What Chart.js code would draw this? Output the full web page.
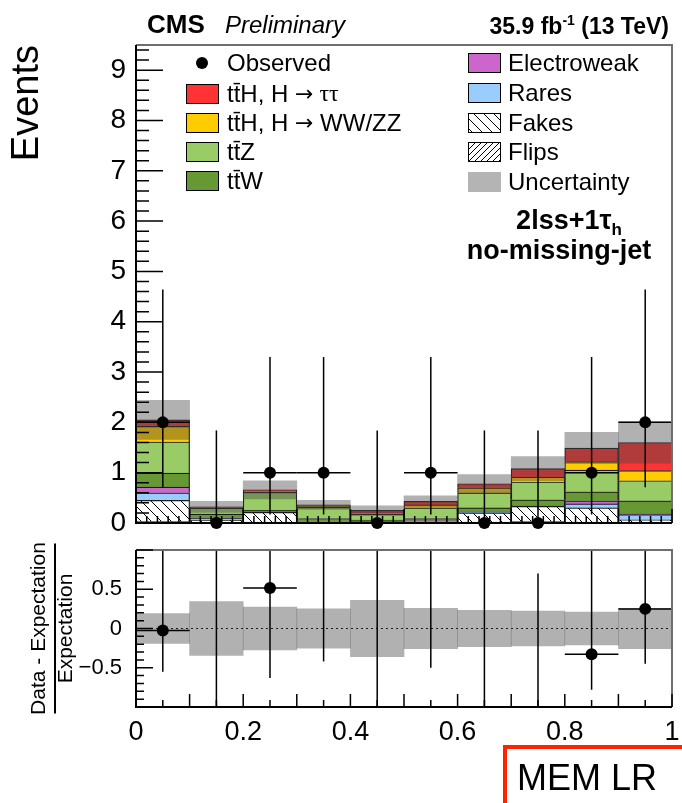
<!DOCTYPE html>
<html>
<head>
<meta charset="utf-8">
<script src="https://cdn.jsdelivr.net/npm/chart.js@4/dist/chart.umd.min.js"></script>
<style>
body { margin: 0; background: #fff; }
#wrap { position: relative; width: 682px; height: 803px; overflow: hidden; }
canvas { position: absolute; left: 0; }
</style>
</head>
<body>
<div id="wrap">
<canvas id="mainchart" width="682" height="570" style="top:0"></canvas>
<canvas id="ratiochart" width="682" height="303" style="top:500px"></canvas>
</div>
<script>
// MEM LR bins, 2lss+1tau_h no-missing-jet category
var binCenters  = [0.05, 0.15, 0.25, 0.35, 0.45, 0.55, 0.65, 0.75, 0.85, 0.95];
var flips       = [0.03, 0.01, 0.02, 0.00, 0.00, 0.00, 0.02, 0.03, 0.02, 0.005];
var fakes       = [0.42, 0.05, 0.19, 0.01, 0.005, 0.02, 0.18, 0.30, 0.28, 0.06];
var rares       = [0.15, 0.035, 0.01, 0.015, 0.02, 0.02, 0.01, 0.01, 0.08, 0.10];
var electroweak = [0.115, 0.01, 0.00, 0.00, 0.005, 0.005, 0.005, 0.01, 0.06, 0.01];
var ttW         = [0.275, 0.07, 0.03, 0.065, 0.03, 0.045, 0.085, 0.11, 0.18, 0.265];
var ttZ         = [0.62, 0.12, 0.36, 0.22, 0.11, 0.21, 0.30, 0.355, 0.43, 0.40];
var ttH_VV      = [0.31, 0.015, 0.03, 0.02, 0.03, 0.06, 0.10, 0.095, 0.17, 0.20];
var ttH_tautau  = [0.13, 0.01, 0.02, 0.03, 0.05, 0.07, 0.08, 0.17, 0.27, 0.56];
var uncertainty = [0.39, 0.11, 0.18, 0.09, 0.09, 0.11, 0.18, 0.24, 0.31, 0.41];

var observed    = [2, 0, 1, 1, 0, 1, 0, 0, 1, 2];
var obsErrLow   = [1.29, 0, 0.83, 0.83, 0, 0.83, 0, 0, 0.83, 1.29];
var obsErrHigh  = [2.64, 1.84, 2.30, 2.30, 1.84, 2.30, 1.84, 1.84, 2.30, 2.64];

// ends of the data error bars in the ratio panel
var ratioErrLow  = [-0.55, -1, -0.63, -0.42, -1, -0.50, -1, -1, -0.78, -0.45];
var ratioErrHigh = [1, 1, 1, 1, 1, 1, 1, 0.70, 1, 1];

var mainYTicks   = [0, 1, 2, 3, 4, 5, 6, 7, 8, 9];
var ratioYTicks  = [-0.5, 0, 0.5];
var ratioYLabels = ['\u22120.5', '0', '0.5'];
var xTicks       = [0, 0.2, 0.4, 0.6, 0.8, 1];
var xTickLabels  = ['0', '0.2', '0.4', '0.6', '0.8', '1'];

var binHalf = 0.05;
var ratioTop = 500;   // page offset of the ratio canvas
var FONT = "'Liberation Sans', Arial, sans-serif";
Chart.defaults.font.family = FONT;

function hatch(size, forward) {
    var c = document.createElement('canvas');
    c.width = size; c.height = size;
    var g = c.getContext('2d');
    g.fillStyle = '#fff';
    g.fillRect(0, 0, size, size);
    g.strokeStyle = '#000';
    g.lineWidth = 1;
    g.beginPath();
    if (forward) {
        g.moveTo(0, size); g.lineTo(size, 0);
        g.moveTo(-2, 2); g.lineTo(2, -2);
        g.moveTo(size - 2, size + 2); g.lineTo(size + 2, size - 2);
    } else {
        g.moveTo(0, 0); g.lineTo(size, size);
        g.moveTo(-2, size - 2); g.lineTo(2, size + 2);
        g.moveTo(size - 2, -2); g.lineTo(size + 2, 2);
    }
    g.stroke();
    return g.createPattern(c, 'repeat');
}

var fakesFill = hatch(10, false);
var flipsFill = hatch(6, true);
var bandFill = 'rgba(70,70,70,0.42)';

var colors = {
    tautau: '#ff3333', vv: '#ffcc00', ttZ: '#99cc66', ttW: '#669933',
    ew: '#cc66cc', rares: '#99ccff', unc: '#b4b4b4'
};

var total = binCenters.map(function(x, i) {
    return flips[i] + fakes[i] + rares[i] + electroweak[i] + ttW[i] + ttZ[i] + ttH_VV[i] + ttH_tautau[i];
});

function pts(values) {
    return binCenters.map(function(x, i) { return { x: x, y: values[i] }; });
}

function fixedTicks(values) {
    return function(s) { s.ticks = values.map(function(v) { return { value: v }; }); };
}

function stackSet(label, values, fill) {
    return {
        type: 'bar', label: label, stack: 'mc', data: pts(values),
        backgroundColor: fill, borderColor: '#1a1a1a', borderWidth: 1.2,
        barPercentage: 1, categoryPercentage: 1
    };
}

function drawTicks(ctx, scale, area, step, major, majLen, minLen, horizontal) {
    var k0 = Math.ceil(scale.min / step - 1e-6), k1 = Math.floor(scale.max / step + 1e-6);
    ctx.beginPath();
    for (var k = k0; k <= k1; k++) {
        var v = k * step;
        var r = v / major;
        var len = Math.abs(r - Math.round(r)) < 1e-6 ? majLen : minLen;
        var p = scale.getPixelForValue(v);
        if (horizontal) {
            ctx.moveTo(p, area.bottom); ctx.lineTo(p, area.bottom - len);
        } else {
            ctx.moveTo(area.left, p); ctx.lineTo(area.left + len, p);
        }
    }
    ctx.stroke();
}

function drawFrame(ctx, a) {
    ctx.lineWidth = 2;
    ctx.strokeStyle = '#6e6e6e';
    ctx.beginPath();
    ctx.moveTo(a.left, a.top); ctx.lineTo(a.right, a.top); ctx.lineTo(a.right, a.bottom);
    ctx.stroke();
    ctx.strokeStyle = '#000';
    ctx.beginPath();
    ctx.moveTo(a.left, a.top); ctx.lineTo(a.left, a.bottom); ctx.lineTo(a.right, a.bottom);
    ctx.stroke();
}

// text made of pieces in different fonts, drawn left to right
function drawParts(ctx, parts, x, y) {
    parts.forEach(function(p) {
        ctx.font = p.font;
        ctx.fillText(p.text, x, y + (p.dy || 0));
        x += ctx.measureText(p.text).width;
    });
}

var LEG = '24px ' + FONT, ARROW = "22px 'DejaVu Sans', sans-serif";
var TAU = "24px 'Liberation Serif', serif";
var leftLegend = [
    { label: [{ text: 'Observed', font: LEG }], marker: true },
    { label: [{ text: 'tt\u0304H, H ', font: LEG }, { text: '\u2192', font: ARROW }, { text: ' \u03c4\u03c4', font: TAU }], fill: colors.tautau },
    { label: [{ text: 'tt\u0304H, H ', font: LEG }, { text: '\u2192', font: ARROW }, { text: ' WW/ZZ', font: LEG }], fill: colors.vv },
    { label: [{ text: 'tt\u0304Z', font: LEG }], fill: colors.ttZ },
    { label: [{ text: 'tt\u0304W', font: LEG }], fill: colors.ttW }
];
var rightLegend = [
    { label: [{ text: 'Electroweak', font: LEG }], fill: colors.ew },
    { label: [{ text: 'Rares', font: LEG }], fill: colors.rares },
    { label: [{ text: 'Fakes', font: LEG }], fill: fakesFill },
    { label: [{ text: 'Flips', font: LEG }], fill: flipsFill },
    { label: [{ text: 'Uncertainty', font: LEG }], fill: colors.unc, noBorder: true }
];

function drawLegend(ctx, items, boxX, textX, rows) {
    ctx.textBaseline = 'middle';
    ctx.textAlign = 'left';
    items.forEach(function(it, i) {
        var y = rows[i];
        if (it.marker) {
            ctx.fillStyle = '#000';
            ctx.beginPath(); ctx.arc(boxX + 16, y, 6, 0, Math.PI * 2); ctx.fill();
        } else {
            ctx.fillStyle = it.fill;
            ctx.fillRect(boxX, y - 10, 33, 20);
            if (!it.noBorder) {
                ctx.lineWidth = 1; ctx.strokeStyle = '#000';
                ctx.strokeRect(boxX + 0.5, y - 9.5, 32, 19);
            }
        }
        ctx.fillStyle = '#000';
        drawParts(ctx, it.label, textX, y + 1);
    });
}

var mainDecor = {
    id: 'mainDecor',
    afterDatasetsDraw: function(chart) {
        var ctx = chart.ctx, xs = chart.scales.x, ys = chart.scales.y, a = chart.chartArea;
        ctx.save();
        ctx.beginPath(); ctx.rect(a.left, a.top, a.right - a.left, a.bottom - a.top); ctx.clip();
        ctx.strokeStyle = '#000'; ctx.lineWidth = 1.5;
        for (var i = 0; i < binCenters.length; i++) {
            var px = xs.getPixelForValue(binCenters[i]);
            ctx.beginPath();
            ctx.moveTo(px, ys.getPixelForValue(observed[i] - obsErrLow[i]));
            ctx.lineTo(px, ys.getPixelForValue(observed[i] + obsErrHigh[i]));
            if (observed[i] > 0) {
                var py = ys.getPixelForValue(observed[i]);
                ctx.moveTo(xs.getPixelForValue(binCenters[i] - binHalf), py);
                ctx.lineTo(xs.getPixelForValue(binCenters[i] + binHalf), py);
            }
            ctx.stroke();
        }
        ctx.restore();
    },
    afterDraw: function(chart) {
        var ctx = chart.ctx, a = chart.chartArea;
        ctx.save();
        drawFrame(ctx, a);
        ctx.lineWidth = 1.5; ctx.strokeStyle = '#000';
        drawTicks(ctx, chart.scales.y, a, 0.2, 1, 27, 13, false);
        drawTicks(ctx, chart.scales.x, a, 0.02, 0.1, 14, 7, true);

        // header
        ctx.fillStyle = '#000';
        ctx.textBaseline = 'alphabetic';
        ctx.textAlign = 'left';
        ctx.font = 'bold 26px ' + FONT;
        ctx.fillText('CMS', 147, 33);
        ctx.font = 'italic 24px ' + FONT;
        ctx.fillText('Preliminary', 225, 33);

        var big = 'bold 23px ' + FONT, sup = 'bold 14px ' + FONT;
        ctx.font = big; var w1 = ctx.measureText('35.9 fb').width, w3 = ctx.measureText(' (13 TeV)').width;
        ctx.font = sup; var w2 = ctx.measureText('-1').width;
        var x0 = 669 - (w1 + w2 + w3);
        drawParts(ctx, [
            { text: '35.9 fb', font: big },
            { text: '-1', font: sup, dy: -9 },
            { text: ' (13 TeV)', font: big }
        ], x0, 34);

        // axis title
        ctx.save();
        ctx.translate(28, a.top);
        ctx.rotate(-Math.PI / 2);
        ctx.font = '38px ' + FONT;
        ctx.textAlign = 'right';
        ctx.textBaseline = 'middle';
        ctx.fillText('Events', 0, 0);
        ctx.restore();

        drawLegend(ctx, leftLegend, 186, 227, [63, 94, 123, 152, 181]);
        drawLegend(ctx, rightLegend, 468, 508, [63, 93, 123, 152, 182]);

        // category label
        ctx.textAlign = 'left';
        ctx.textBaseline = 'alphabetic';
        var catFont = 'bold 27px ' + FONT, subFont = 'bold 17px ' + FONT;
        ctx.font = catFont;
        var cw = ctx.measureText('2lss+1\u03c4').width;
        ctx.font = subFont;
        var hw = ctx.measureText('h').width;
        drawParts(ctx, [
            { text: '2lss+1\u03c4', font: catFont },
            { text: 'h', font: subFont, dy: 6 }
        ], 569 - (cw + hw) / 2, 229);
        ctx.font = catFont; ctx.textAlign = 'center';
        ctx.fillText('no-missing-jet', 559, 259);
        ctx.restore();
    }
};

var mainChart = new Chart(document.getElementById('mainchart').getContext('2d'), {
    type: 'bar',
    data: {
        datasets: [
            { type: 'line', label: 'Observed', stack: 'obs', order: -2, data: pts(observed),
              showLine: false, pointRadius: 6, pointBackgroundColor: '#000', pointBorderWidth: 0, clip: false },
            { type: 'bar', stack: 'unc', order: -1, grouped: false,
              data: pts(total.map(function(t, i) { return t - uncertainty[i]; })),
              backgroundColor: 'rgba(0,0,0,0)', borderWidth: 0, barPercentage: 1, categoryPercentage: 1 },
            { type: 'bar', label: 'Uncertainty', stack: 'unc', order: -1, grouped: false,
              data: pts(uncertainty.map(function(u) { return 2 * u; })),
              backgroundColor: bandFill, borderWidth: 0, barPercentage: 1, categoryPercentage: 1 },
            stackSet('Flips', flips, flipsFill),
            stackSet('Fakes', fakes, fakesFill),
            stackSet('Rares', rares, colors.rares),
            stackSet('Electroweak', electroweak, colors.ew),
            stackSet('ttW', ttW, colors.ttW),
            stackSet('ttZ', ttZ, colors.ttZ),
            stackSet('ttH, H->WW/ZZ', ttH_VV, colors.vv),
            stackSet('ttH, H->tautau', ttH_tautau, colors.tautau)
        ]
    },
    options: {
        responsive: false,
        animation: false,
        layout: { padding: { top: 45, right: 10, left: 0, bottom: 0 } },
        plugins: { legend: { display: false }, tooltip: { enabled: false } },
        scales: {
            x: {
                type: 'linear', min: 0, max: 1, offset: false, stacked: true,
                grid: { display: false }, border: { display: false }, ticks: { display: false },
                afterFit: function(s) { s.height = 47; }
            },
            y: {
                min: 0, max: 9.5, stacked: true,
                grid: { display: false }, border: { display: false },
                afterBuildTicks: fixedTicks(mainYTicks),
                ticks: {
                    autoSkip: false, padding: 2, color: '#000', font: { size: 28 },
                    callback: function(v) { return String(v); }
                },
                afterFit: function(s) { s.width = 136; }
            }
        }
    },
    plugins: [mainDecor]
});

var ratioPoints = binCenters.map(function(x, i) {
    var r = (observed[i] - total[i]) / total[i];
    return { x: x, y: (r > -1 && r < 1) ? r : null };
});
var ratioBand = binCenters.map(function(x, i) {
    var rel = uncertainty[i] / total[i];
    return { x: x, y: [-rel, rel] };
});

var ratioDecor = {
    id: 'ratioDecor',
    beforeDatasetsDraw: function(chart) {
        var ctx = chart.ctx, a = chart.chartArea, y0 = chart.scales.y.getPixelForValue(0);
        ctx.save();
        ctx.strokeStyle = '#000'; ctx.lineWidth = 1; ctx.setLineDash([2, 3]);
        ctx.beginPath(); ctx.moveTo(a.left, y0); ctx.lineTo(a.right, y0); ctx.stroke();
        ctx.restore();
    },
    afterDatasetsDraw: function(chart) {
        var ctx = chart.ctx, xs = chart.scales.x, ys = chart.scales.y, a = chart.chartArea;
        ctx.save();
        ctx.beginPath(); ctx.rect(a.left, a.top, a.right - a.left, a.bottom - a.top); ctx.clip();
        ctx.strokeStyle = '#000'; ctx.lineWidth = 1.5;
        for (var i = 0; i < binCenters.length; i++) {
            var px = xs.getPixelForValue(binCenters[i]);
            ctx.beginPath();
            ctx.moveTo(px, ys.getPixelForValue(ratioErrLow[i]));
            ctx.lineTo(px, ys.getPixelForValue(ratioErrHigh[i]));
            if (ratioPoints[i].y !== null && observed[i] > 0) {
                var py = ys.getPixelForValue(ratioPoints[i].y);
                ctx.moveTo(xs.getPixelForValue(binCenters[i] - binHalf), py);
                ctx.lineTo(xs.getPixelForValue(binCenters[i] + binHalf), py);
            }
            ctx.stroke();
        }
        ctx.restore();
    },
    afterDraw: function(chart) {
        var ctx = chart.ctx, a = chart.chartArea;
        ctx.save();
        drawFrame(ctx, a);
        ctx.lineWidth = 1.5; ctx.strokeStyle = '#000';
        drawTicks(ctx, chart.scales.y, a, 0.1, 0.5, 17, 8, false);
        drawTicks(ctx, chart.scales.x, a, 0.05, 0.1, 13, 7, true);

        // fraction-style axis title
        ctx.fillStyle = '#000';
        ctx.font = '21px ' + FONT;
        ctx.textAlign = 'center';
        ctx.textBaseline = 'middle';
        var cy = (a.top + a.bottom) / 2;
        ctx.save(); ctx.translate(39, cy); ctx.rotate(-Math.PI / 2);
        ctx.fillText('Data - Expectation', 0, 0); ctx.restore();
        ctx.save(); ctx.translate(66, cy); ctx.rotate(-Math.PI / 2);
        ctx.fillText('Expectation', 0, 0); ctx.restore();
        ctx.lineWidth = 2;
        ctx.beginPath(); ctx.moveTo(55, cy - 85); ctx.lineTo(55, cy + 85); ctx.stroke();

        // x-axis title box
        ctx.strokeStyle = '#ff2200'; ctx.lineWidth = 4;
        ctx.strokeRect(505, 747 - ratioTop, 300, 200);
        ctx.font = '36px ' + FONT;
        ctx.textAlign = 'left'; ctx.textBaseline = 'alphabetic';
        ctx.fillText('MEM LR', 517, 790 - ratioTop);
        ctx.restore();
    }
};

var ratioChart = new Chart(document.getElementById('ratiochart').getContext('2d'), {
    type: 'bar',
    data: {
        datasets: [
            { type: 'line', label: 'Observed', order: -1, data: ratioPoints,
              showLine: false, pointRadius: 6, pointBackgroundColor: '#000', pointBorderWidth: 0, clip: false },
            { type: 'bar', label: 'Uncertainty', data: ratioBand, backgroundColor: bandFill,
              borderWidth: 0, barPercentage: 1, categoryPercentage: 1 }
        ]
    },
    options: {
        responsive: false,
        animation: false,
        layout: { padding: { top: 550 - ratioTop, right: 10, left: 0, bottom: 0 } },
        plugins: { legend: { display: false }, tooltip: { enabled: false } },
        scales: {
            x: {
                type: 'linear', min: 0, max: 1, offset: false,
                grid: { display: false }, border: { display: false },
                afterBuildTicks: fixedTicks(xTicks),
                ticks: {
                    autoSkip: false, padding: 1, color: '#000', font: { size: 27 }, maxRotation: 0,
                    callback: function(v, i) { return xTickLabels[i]; }
                },
                afterFit: function(s) { s.height = 803 - 707; }
            },
            y: {
                min: -1, max: 1,
                grid: { display: false }, border: { display: false },
                afterBuildTicks: fixedTicks(ratioYTicks),
                ticks: {
                    autoSkip: false, padding: 6, color: '#000', font: { size: 22 },
                    callback: function(v, i) { return ratioYLabels[i]; }
                },
                afterFit: function(s) { s.width = 136; }
            }
        }
    },
    plugins: [ratioDecor]
});
</script>
</body>
</html>
